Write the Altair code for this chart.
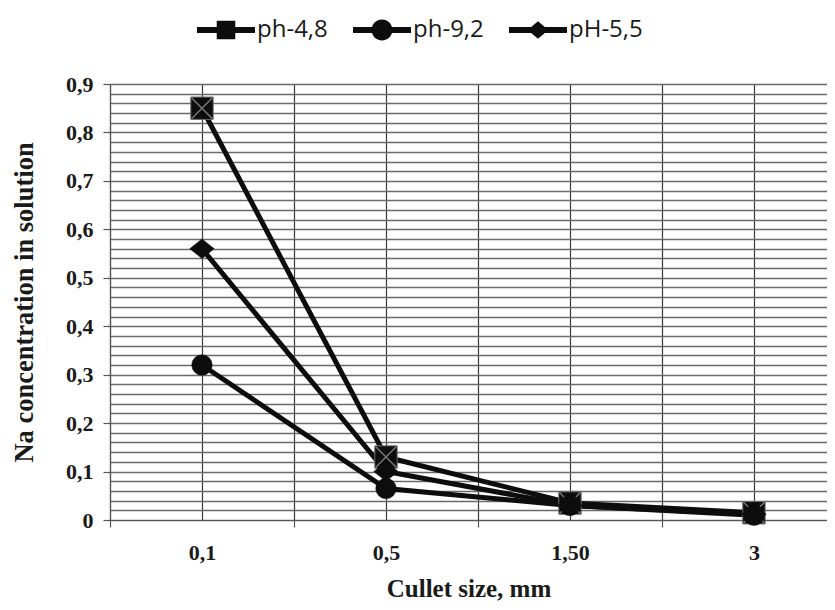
import json
import altair as alt
import pandas as pd

# ---- data ----
cullet_sizes = ["0,1", "0,5", "1,50", "3"]
series_names = ["ph-4,8", "ph-9,2", "pH-5,5"]
ph_4_8 = [0.85, 0.13, 0.035, 0.015]
ph_9_2 = [0.32, 0.065, 0.03, 0.010]
ph_5_5 = [0.56, 0.10, 0.030, 0.012]
y_label_ticks = [0, 0.1, 0.2, 0.3, 0.4, 0.5, 0.6, 0.7, 0.8, 0.9]
y_minor_step = 0.02
x_title = "Cullet size, mm"
y_title = "Na concentration in solution"

values_by_series = {"ph-4,8": ph_4_8, "ph-9,2": ph_9_2, "pH-5,5": ph_5_5}
draw_order = ["ph-4,8", "pH-5,5", "ph-9,2"]

rows = []
for name in draw_order:
    for i, (c, v) in enumerate(zip(cullet_sizes, values_by_series[name])):
        rows.append({"series": name, "size": c, "pos": i + 0.5, "value": v})
df = pd.DataFrame(rows)

n_cat = len(cullet_sizes)
x_grid_values = [k * 0.5 for k in range(2 * n_cat)]
y_grid_values = [round(k * y_minor_step, 2) for k in range(int(round(max(y_label_ticks) / y_minor_step)) + 1)]

SERIF = "Liberation Serif"
TXT = "#1a1a1a"

x_enc = alt.X(
    "pos:Q",
    scale=alt.Scale(domain=[0, 3.897], nice=False, zero=False, clamp=True),
    axis=alt.Axis(
        values=x_grid_values,
        title=x_title,
        grid=True,
        gridColor="#3a3a3a",
        gridWidth=1.2,
        domainColor="#555555",
        domainWidth=1.2,
        tickColor="#555555",
        tickWidth=1.2,
        tickSize=7,
        tickOpacity={"condition": {"test": "datum.value % 1 == 0", "value": 1}, "value": 0},
        labelExpr=f"(datum.value % 1) == 0.5 ? {json.dumps(cullet_sizes)}[floor(datum.value)] : ''",
        labelFont=SERIF,
        labelFontWeight="bold",
        labelFontSize=22,
        labelColor=TXT,
        labelPadding=15,
        labelFlush=False,
        titleFont=SERIF,
        titleFontWeight="bold",
        titleFontSize=25,
        titleColor=TXT,
        titleBaseline="alphabetic",
        titleY=76,
    ),
)

y_enc = alt.Y(
    "value:Q",
    scale=alt.Scale(domain=[0, 0.9], nice=False),
    axis=alt.Axis(
        values=y_grid_values,
        title=y_title,
        grid=True,
        gridColor="#6a6a6a",
        gridWidth=1.4,
        domainColor="#555555",
        domainWidth=1.2,
        tickColor="#555555",
        tickWidth=1.2,
        tickSize=7,
        tickOpacity={
            "condition": {"test": "abs(datum.value*10 - round(datum.value*10)) < 1e-6", "value": 1},
            "value": 0,
        },
        labelExpr=(
            "abs(datum.value*10 - round(datum.value*10)) < 1e-6 ? "
            "(datum.value == 0 ? '0' : replace(format(datum.value, '.1f'), '.', ',')) : ''"
        ),
        labelFont=SERIF,
        labelFontWeight="bold",
        labelFontSize=22,
        labelColor=TXT,
        labelPadding=10,
        labelFlush=False,
        titleFont=SERIF,
        titleFontWeight="bold",
        titleFontSize=26.5,
        titleColor=TXT,
        titlePadding=27,
    ),
)

base = alt.Chart(df)

lines = base.mark_line(color="#0d0d0d", strokeWidth=5).encode(
    x=x_enc, y=y_enc, detail="series:N", order="pos:Q"
)

diamond_path = "M-1,0L0,-0.8L1,0L0,0.8Z"
shape_enc = alt.Shape(
    "series:N", scale=alt.Scale(domain=series_names, range=["square", "circle", diamond_path]), legend=None
)
size_enc = alt.Size(
    "series:N", scale=alt.Scale(type="ordinal", domain=series_names, range=[500, 420, 600]), legend=None
)

squares = base.transform_filter(alt.datum.series == series_names[0]).mark_point(
    filled=True, fill="#0d0d0d", stroke="#6a6a6a", strokeWidth=1, opacity=1
).encode(x=x_enc, y=y_enc, shape=shape_enc, size=size_enc)

xmarks = base.transform_filter(alt.datum.series == series_names[0]).mark_point(
    shape="M-1,-1L1,1M-1,1L1,-1", filled=False, stroke="#7a7a7a", strokeWidth=1.4, size=440, opacity=1
).encode(x=x_enc, y=y_enc)

others = base.transform_filter(alt.datum.series != series_names[0]).mark_point(
    filled=True, fill="#0d0d0d", stroke="#0d0d0d", strokeWidth=0.5, opacity=1
).encode(x=x_enc, y=y_enc, shape=shape_enc, size=size_enc)

legend_paths = [
    "M-1,-0.105L1,-0.105L1,0.105L-1,0.105Z M-0.32,-0.32L0.32,-0.32L0.32,0.32L-0.32,0.32Z",
    "M-1,-0.105L1,-0.105L1,0.105L-1,0.105Z M-0.36,0A0.36,0.36 0 1,1 0.36,0A0.36,0.36 0 1,1 -0.36,0Z",
    "M-1,-0.105L1,-0.105L1,0.105L-1,0.105Z M-0.36,0L0,-0.3L0.36,0L0,0.3Z",
]
legend_layer = base.mark_point(filled=True, fill="#0d0d0d", opacity=0).encode(
    x=x_enc,
    y=y_enc,
    shape=alt.Shape(
        "series:N",
        scale=alt.Scale(domain=series_names, range=legend_paths),
        legend=alt.Legend(
            title=None,
            orient="none",
            legendX=87,
            legendY=-83,
            direction="horizontal",
            symbolSize=3364,
            symbolFillColor="#0d0d0d",
            symbolStrokeWidth=0,
            symbolOpacity=1,
            labelFont="Open Sans",
            labelFontSize=24,
            labelColor=TXT,
            labelOffset=2,
            columnPadding=25,
            padding=0,
        ),
    ),
)

chart = (
    alt.layer(lines, squares, xmarks, others, legend_layer)
    .resolve_scale(shape="independent", size="independent")
    .properties(
        width=717,
        height=436,
        padding={"left": 102, "top": 76, "right": 0, "bottom": 82},
        autosize=alt.AutoSizeParams(type="none"),
        background="white",
    )
    .configure_view(stroke=None)
)

chart.save("out.html", embed_options={"renderer": "svg", "actions": False})
